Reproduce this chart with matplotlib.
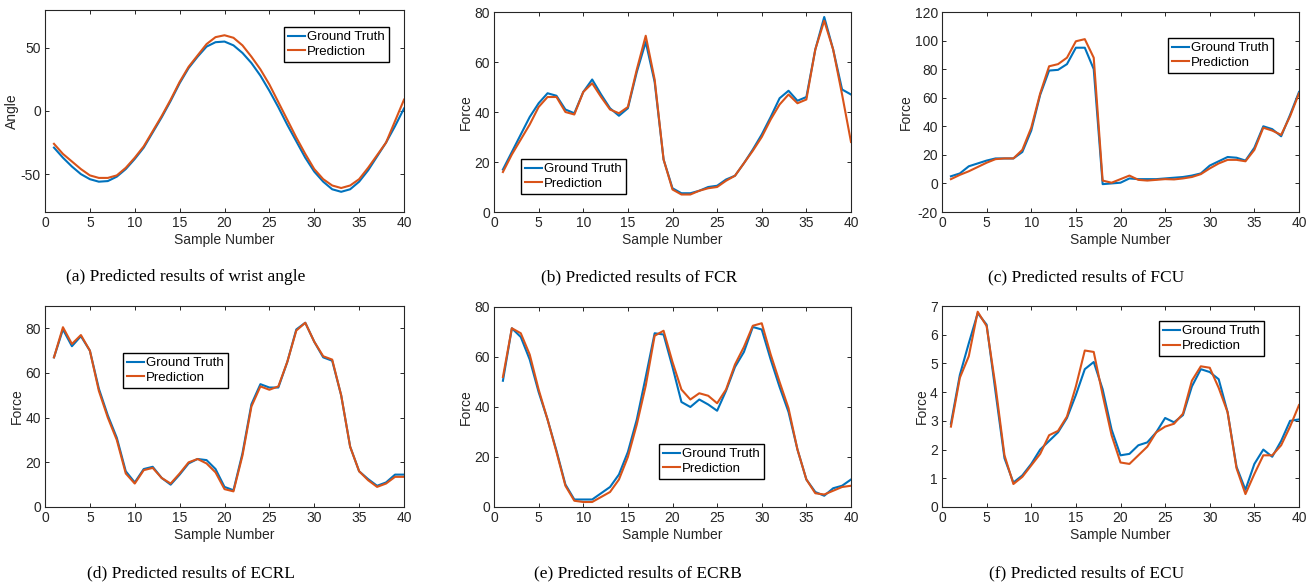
import matplotlib
matplotlib.use('Agg')
import matplotlib.pyplot as plt
import numpy as np

plt.rcParams['font.family'] = ['Liberation Sans', 'DejaVu Sans']
plt.rcParams['font.size'] = 10
plt.rcParams['axes.unicode_minus'] = False

# 数据
samples = np.arange(1, 41)

angle_true = [-29, -37, -44, -50, -54, -56, -55.5, -52, -46, -38,
              -29, -17, -5, 8, 22, 34, 43, 51, 54.5, 55,
              52, 46, 38, 28, 16, 3, -11, -24, -37, -48,
              -56, -62, -64, -62, -56, -47, -36, -25, -12, 2]
angle_pred = [-26, -34, -40, -46, -51, -53, -53, -51, -45, -37,
              -28, -16, -4, 9, 23, 35, 44, 53, 58.5, 60,
              58, 52, 43, 33, 21, 7, -7, -21, -34, -46,
              -54, -59, -61, -59, -54, -45, -35, -25, -8, 9]

fcr_true = [17, 24, 31, 38, 43.5, 47.5, 46.5, 41, 39.5, 48,
            53, 47, 41.5, 38.5, 41.5, 56, 68, 52, 21, 9.5,
            7.5, 7.5, 8.5, 10, 10.5, 13, 14.5, 19.5, 25, 31,
            38, 45.5, 48.5, 44.5, 46, 65, 78, 65, 49, 47]
fcr_pred = [16, 23, 29, 35, 42, 46, 46, 40, 39, 48,
            51.5, 46, 41, 39.5, 42, 57, 70.5, 53, 21, 9,
            7, 7, 8.5, 9.5, 10, 12.5, 14.5, 19.5, 24.5, 30,
            37, 43, 47, 43.5, 45, 65, 76.5, 65, 47, 28]

fcu_true = [5, 7, 12, 14, 16, 17.5, 17.5, 17.5, 22, 37,
            62, 79, 79.5, 83.5, 95, 95, 80, -0.5, 0, 0.5,
            3.5, 3, 3, 3, 3.5, 4, 4.5, 5.5, 7, 12.5,
            15.5, 18.5, 18, 16, 25, 40, 38, 33, 48, 64]
fcu_pred = [3, 6, 8.5, 11.5, 14.5, 17, 17.5, 17.5, 23.5, 39,
            63, 82, 83.5, 88, 99.5, 101, 88, 2, 0.5, 3,
            5.5, 2.5, 2, 2.5, 3, 2.8, 3.5, 4.5, 6.5, 10.5,
            14, 16.5, 16.5, 15.5, 23.5, 39, 37, 34, 47, 63]

ecrl_true = [67, 79.5, 72, 76.5, 70, 53, 41, 31, 16, 11,
             17, 18, 13, 10, 14.5, 19.5, 21.5, 21, 17, 9,
             7.5, 24, 46, 55, 53.5, 53.5, 65, 79.5, 82.5, 74,
             67, 65.5, 50, 27, 16, 12.5, 9.5, 11, 14.5, 14.5]
ecrl_pred = [67, 80.5, 73, 77, 70, 52, 40, 30, 15, 10.5,
             16.5, 17.5, 13, 10.5, 15, 20, 21.5, 19.5, 15.5, 8,
             7, 23, 45, 54, 52.5, 54, 65, 79, 82.5, 74,
             67.5, 66, 50, 27, 16, 12, 9, 10.5, 13.5, 13.5]

ecrb_true = [50.5, 71.5, 68, 59, 46, 35, 22.5, 9, 3, 3,
             3, 5.5, 8, 13, 22, 35, 52, 69.5, 69, 56,
             42, 40, 43, 41, 38.5, 46.5, 56, 62, 72, 71,
             59, 48, 38, 23, 11, 6, 4.5, 7.5, 8.5, 11]
ecrb_pred = [52, 71.5, 69.5, 61, 47, 35, 22, 8.5, 2.5, 2,
             2, 4, 6, 11, 20, 33, 48.5, 68.5, 70.5, 58,
             47, 43, 45.5, 44.5, 41.5, 47, 57, 64, 72.5, 73.5,
             61, 50, 39.5, 23, 11, 5.5, 5, 6.5, 8, 8.5]

ecu_true = [2.9, 4.6, 5.7, 6.75, 6.35, 4.0, 1.7, 0.85, 1.1, 1.5,
            2.0, 2.3, 2.6, 3.1, 3.9, 4.8, 5.05, 4.1, 2.7, 1.8,
            1.85, 2.15, 2.25, 2.6, 3.1, 2.95, 3.2, 4.2, 4.8, 4.7,
            4.45, 3.3, 1.4, 0.6, 1.5, 2.0, 1.75, 2.3, 3.0, 3.05]
ecu_pred = [2.8, 4.5, 5.25, 6.8, 6.3, 4.2, 1.8, 0.8, 1.05, 1.45,
            1.85, 2.5, 2.65, 3.15, 4.2, 5.45, 5.4, 3.9, 2.5, 1.55,
            1.5, 1.8, 2.1, 2.6, 2.8, 2.9, 3.25, 4.4, 4.9, 4.85,
            4.15, 3.3, 1.35, 0.45, 1.15, 1.8, 1.8, 2.15, 2.8, 3.55]

captions = ['(a) Predicted results of wrist angle', '(b) Predicted results of FCR',
            '(c) Predicted results of FCU', '(d) Predicted results of ECRL',
            '(e) Predicted results of ECRB', '(f) Predicted results of ECU']
ylabels = ['Angle', 'Force', 'Force', 'Force', 'Force', 'Force']

BLUE = '#0072BD'
ORANGE = '#D95319'
AX_COLOR = '#262626'

W, H = 1312, 587
fig = plt.figure(figsize=(W / 100, H / 100), dpi=100)


def px_rect(x0, y0, x1, y1):
    # 像素坐标 -> figure 坐标
    return [x0 / W, 1 - y1 / H, (x1 - x0) / W, (y1 - y0) / H]


# 每个子图: (区域, 真值, 预测, ylim, yticks, 图例loc, 图例锚点, 标题x, 标题y)
panels = [
    (px_rect(45, 10, 404, 212), angle_true, angle_pred, (-80, 80), [-50, 0, 50],
     'upper right', (0.958, 0.916), 66, 281),
    (px_rect(494, 12, 851, 212), fcr_true, fcr_pred, (0, 80), [0, 20, 40, 60, 80],
     'lower left', (0.076, 0.09), 541, 281),
    (px_rect(942, 12, 1299, 212), fcu_true, fcu_pred, (-20, 120), list(range(-20, 121, 20)),
     'upper right', (0.927, 0.87), 988, 281),
    (px_rect(45, 306, 404, 507), ecrl_true, ecrl_pred, (0, 90), [0, 20, 40, 60, 80],
     'upper left', (0.217, 0.766), 87, 577),
    (px_rect(494, 307, 851, 507), ecrb_true, ecrb_pred, (0, 80), [0, 20, 40, 60, 80],
     'lower left', (0.462, 0.14), 534, 577),
    (px_rect(942, 306, 1299, 507), ecu_true, ecu_pred, (0, 7), list(range(0, 8)),
     'upper right', (0.902, 0.925), 989, 577),
]

for i, (rect, y_true, y_pred, ylim, yticks, loc, anchor, cx, cy) in enumerate(panels):
    ax = fig.add_axes(rect)
    ax.plot(samples, y_true, color=BLUE, lw=1.5, label='Ground Truth')
    ax.plot(samples, y_pred, color=ORANGE, lw=1.5, label='Prediction')
    ax.set_xlim(0, 40)
    ax.set_ylim(*ylim)
    ax.set_xticks(range(0, 41, 5))
    ax.set_yticks(yticks)
    ax.set_xlabel('Sample Number', color=AX_COLOR, labelpad=2)
    ax.set_ylabel(ylabels[i], color=AX_COLOR, labelpad=1)
    ax.tick_params(direction='in', length=3, width=0.7, top=True, right=True,
                   colors=AX_COLOR, labelsize=10, pad=3)
    for sp in ax.spines.values():
        sp.set_color(AX_COLOR)
        sp.set_linewidth(0.8)
    leg = ax.legend(loc=loc, bbox_to_anchor=anchor, fancybox=False, framealpha=1,
                    edgecolor='black', fontsize=9.5, handlelength=1.3, handletextpad=0.15,
                    borderpad=0.3, labelspacing=0.2, borderaxespad=0)
    leg.get_frame().set_linewidth(1.0)
    fig.text(cx / W, 1 - cy / H, captions[i], ha='left', va='baseline',
             family='Liberation Serif', fontsize=12.5)

fig.savefig('out.png', dpi=100)
